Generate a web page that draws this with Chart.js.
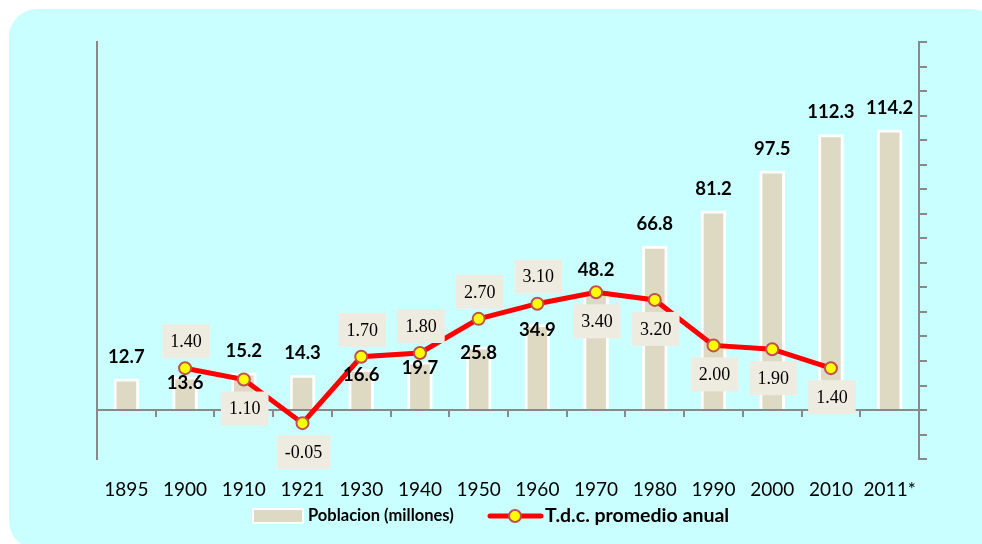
<!DOCTYPE html>
<html>
<head>
<meta charset="utf-8">
<script src="https://cdn.jsdelivr.net/npm/chart.js"></script>
<style>
html,body{margin:0;padding:0;background:#ffffff;}
#wrap{width:982px;height:544px;position:relative;}
canvas{display:block;}
</style>
</head>
<body>
<div id="wrap"><canvas id="c" width="982" height="544"></canvas></div>
<script>
// ---- data ----
const categories = ['1895','1900','1910','1921','1930','1940','1950','1960','1970','1980','1990','2000','2010','2011*'];
const poblacion = [12.7, 13.6, 15.2, 14.3, 16.6, 19.7, 25.8, 34.9, 48.2, 66.8, 81.2, 97.5, 112.3, 114.2];
const tdc = [null, 1.40, 1.10, -0.05, 1.70, 1.80, 2.70, 3.10, 3.40, 3.20, 2.00, 1.90, 1.40, null];
const seriesNames = ['Poblacion (millones)', 'T.d.c. promedio anual'];
// label placement (style): where each value label sits
const barLabelPlacement = ['top','in','top','top','in','in','in','in','top','top','top','top','top','top'];
const lineLabelPlacement = [null,'above','below','below','above','above','above','above','below','below','below','below','below',null];

const AXIS = '#898989';
const BAR = '#DDD9C3';
const BOX = '#EEECE1';

const bgPlugin = {
  id: 'bg',
  beforeDraw(chart) {
    const ctx = chart.ctx;
    ctx.save();
    ctx.fillStyle = '#C9FFFF';
    ctx.beginPath();
    if (ctx.roundRect) ctx.roundRect(9, 9, 990, 540, 28); else ctx.rect(9, 9, 990, 540);
    ctx.fill();
    ctx.restore();
  }
};

const labelsPlugin = {
  id: 'valueLabels',
  afterDatasetsDraw(chart) {
    const ctx = chart.ctx;
    ctx.save();
    ctx.textAlign = 'center';
    ctx.textBaseline = 'middle';
    const barMeta = chart.getDatasetMeta(1);
    ctx.font = 'bold 18.5px Lato';
    ctx.fillStyle = '#000';
    barMeta.data.forEach((el, i) => {
      const txt = poblacion[i].toFixed(1);
      const y = barLabelPlacement[i] === 'in' ? el.y + 6 : el.y - 22;
      ctx.fillText(txt, el.x, y);
    });
    const lineMeta = chart.getDatasetMeta(0);
    ctx.font = '18px "Liberation Serif"';
    lineMeta.data.forEach((el, i) => {
      if (tdc[i] === null) return;
      const txt = tdc[i].toFixed(2);
      const w = ctx.measureText(txt).width + 16;
      const h = 34;
      const cy = lineLabelPlacement[i] === 'above' ? el.y - 27 : el.y + 29;
      const cx = el.x + 1;
      ctx.fillStyle = BOX;
      ctx.fillRect(cx - w / 2, cy - h / 2, w, h);
      ctx.fillStyle = '#000';
      ctx.fillText(txt, cx, cy + 1);
    });
    ctx.restore();
  }
};

const legendPlugin = {
  id: 'customLegend',
  afterDraw(chart) {
    const ctx = chart.ctx;
    const bar = chart.data.datasets[1];
    const line = chart.data.datasets[0];
    ctx.save();
    const cy = 516;
    // bar swatch
    ctx.fillStyle = bar.backgroundColor;
    ctx.fillRect(253, 509, 50, 14);
    ctx.strokeStyle = '#ffffff';
    ctx.lineWidth = 2;
    ctx.strokeRect(253, 509, 50, 14);
    ctx.fillStyle = '#000';
    ctx.textAlign = 'left';
    ctx.textBaseline = 'middle';
    ctx.font = 'bold 16.5px Lato';
    ctx.fillText(bar.label, 308, cy);
    // line swatch
    ctx.strokeStyle = line.borderColor;
    ctx.lineWidth = 5;
    ctx.lineCap = 'round';
    ctx.beginPath();
    ctx.moveTo(490, cy);
    ctx.lineTo(541, cy);
    ctx.stroke();
    ctx.beginPath();
    ctx.arc(515, cy, 6, 0, Math.PI * 2);
    ctx.fillStyle = line.pointBackgroundColor;
    ctx.fill();
    ctx.lineWidth = 2;
    ctx.strokeStyle = line.pointBorderColor;
    ctx.stroke();
    ctx.fillStyle = '#000';
    ctx.font = 'bold 19.5px Lato';
    ctx.fillText(line.label, 545, cy);
    ctx.restore();
  }
};

new Chart(document.getElementById('c'), {
  type: 'bar',
  data: {
    labels: categories,
    datasets: [
      {
        type: 'line',
        label: seriesNames[1],
        data: tdc,
        xAxisID: 'x',
        yAxisID: 'y1',
        order: 0,
        borderColor: '#FF0000',
        borderWidth: 5,
        pointBackgroundColor: '#FFFF00',
        pointBorderColor: '#C0504D',
        pointBorderWidth: 2,
        pointRadius: 6,
        tension: 0,
        fill: false,
        spanGaps: false
      },
      {
        type: 'bar',
        label: seriesNames[0],
        data: poblacion,
        xAxisID: 'x',
        yAxisID: 'y',
        order: 1,
        backgroundColor: BAR,
        borderColor: '#ffffff',
        borderWidth: 3,
        borderSkipped: 'bottom',
        barThickness: 25
      }
    ]
  },
  options: {
    responsive: false,
    animation: false,
    devicePixelRatio: 1,
    layout: { padding: { left: 97, right: 55, top: 42, bottom: 24 } },
    plugins: { legend: { display: false }, tooltip: { enabled: false } },
    scales: {
      x: {
        type: 'category',
        position: 'bottom',
        offset: true,
        grid: { display: false, drawTicks: false },
        border: { display: false },
        ticks: { color: '#000', font: { family: 'Lato', size: 19 }, padding: 19, maxRotation: 0, autoSkip: false }
      },
      xz: {
        type: 'category',
        position: { y: 0 },
        offset: true,
        grid: { display: true, drawOnChartArea: false, drawTicks: true, tickLength: 6, color: AXIS, lineWidth: 2, offset: true },
        ticks: { display: false },
        border: { display: true, color: AXIS, width: 2 }
      },
      y: {
        position: 'right',
        min: -20,
        max: 150,
        ticks: { display: false, stepSize: 10, maxTicksLimit: 100 },
        grid: { display: true, drawOnChartArea: false, drawTicks: true, tickLength: 8, color: AXIS, lineWidth: 2 },
        border: { display: true, color: AXIS, width: 2 }
      },
      y1: {
        position: 'left',
        min: -1,
        max: 10,
        ticks: { display: false },
        grid: { display: true, drawOnChartArea: false, drawTicks: false },
        border: { display: true, color: AXIS, width: 2 }
      }
    }
  },
  plugins: [bgPlugin, labelsPlugin, legendPlugin]
});
</script>
</body>
</html>
